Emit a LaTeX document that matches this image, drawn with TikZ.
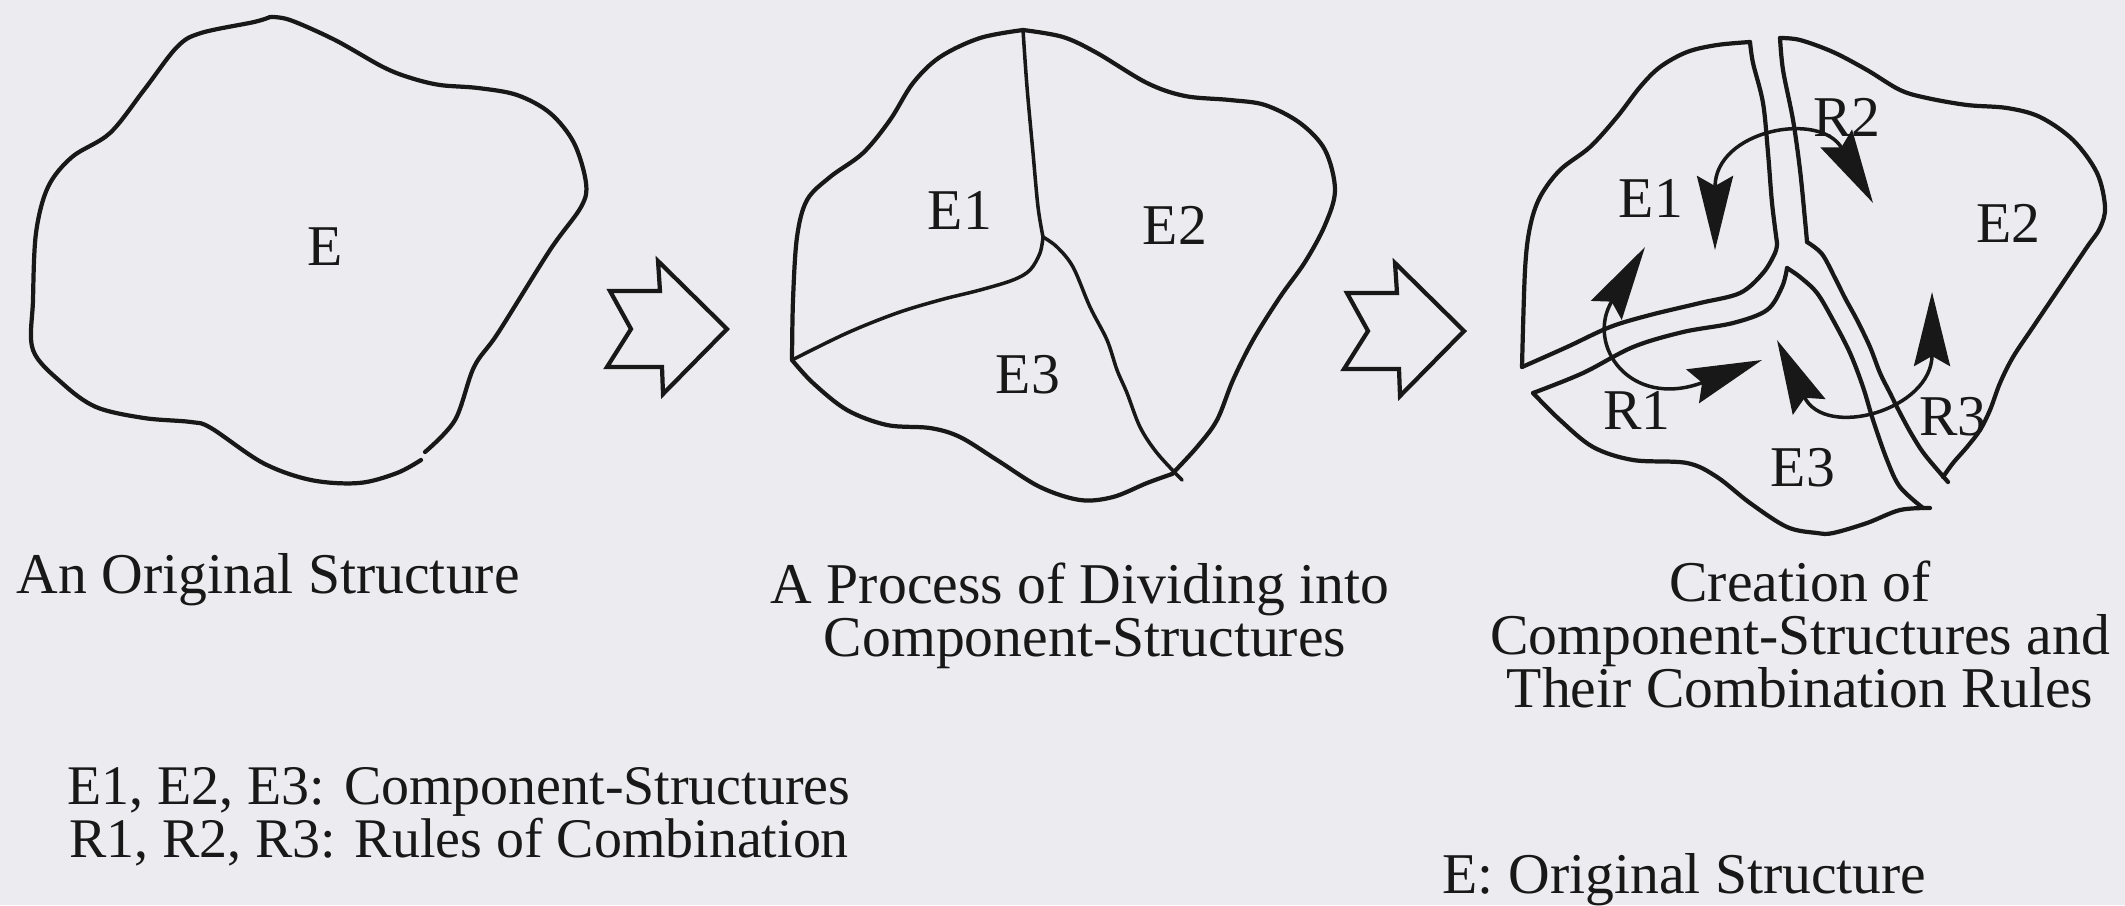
\documentclass[tikz,border=0pt]{standalone}
\usepackage{fontspec}
\setmainfont{Liberation Serif}
\usetikzlibrary{arrows.meta}
\definecolor{bgc}{RGB}{236,236,240}
\definecolor{ink}{RGB}{24,24,24}
\begin{document}
\begin{tikzpicture}[x=0.01cm, y=-0.01cm,
  outline/.style={draw=ink, line width=1.2pt, line join=round, line cap=round},
  inner/.style={draw=ink, line width=1pt, line join=round, line cap=round},
  lbl/.style={font=\fontsize{16.4pt}{14pt}\selectfont, text=ink, inner sep=0pt},
  capline/.style={lbl},
  leg/.style={font=\fontsize{15.9pt}{14pt}\selectfont, text=ink, inner sep=0pt},
  rulearrow/.style={draw=ink, line width=1pt,
    {Stealth[length=0.74cm,width=0.36cm,inset=0.1cm]}-{Stealth[length=0.74cm,width=0.36cm,inset=0.1cm]}},
  bigarrow/.style={draw=ink, line width=1.2pt, line join=miter}]
\fill[bgc] (0,0) rectangle (2125,905);
\useasboundingbox (0,0) rectangle (2125,905);

% ---------- Shape 1: original structure ----------
\draw[outline] plot[smooth, tension=0.55] coordinates {(270,17) (254,22) (201,33) (177,47) (144,90) (110,133) (72,157) (48,187) (36,233) (33,300) (33,350) (62,383) (96,407) (144,418) (191,422) (211,428) (263,463) (311,480) (359,483) (397,473) (421,460)};
\draw[outline] plot[smooth, tension=0.55] coordinates {(425,452) (455,420) (474,367) (498,333) (550,250) (581,207) (586,183) (574,143) (550,113) (517,95) (478,88) (440,85) (411,78) (383,67) (335,40) (290,20) (270,17)};
\node[lbl] (E) at (325,247) {E};

% ---------- big arrows ----------
\begin{scope}[shift={(0,14)}]
\draw[bigarrow] (610,277) -- (660,277) -- (658,247) -- (727,315) -- (663,380) -- (662,353) -- (607,353) -- (631,315) -- cycle;
\end{scope}
\begin{scope}[shift={(737,16)}]
\draw[bigarrow] (610,277) -- (660,277) -- (658,247) -- (727,315) -- (663,380) -- (662,353) -- (607,353) -- (631,315) -- cycle;
\end{scope}

% ---------- Shape 2: dividing ----------
\draw[outline] plot[smooth, tension=0.55] coordinates {(1023,30) (980,38) (940,57) (913,83) (890,120) (863,153) (830,177) (807,200) (797,237) (793,300) (792,360)};
\draw[outline] plot[smooth, tension=0.55] coordinates {(792,360) (813,383) (847,410) (887,425) (930,428) (960,437) (997,460) (1040,487) (1080,500) (1113,497) (1147,483) (1172,474)};
\draw[outline] plot[smooth, tension=0.55] coordinates {(1172,474) (1197,447) (1217,420) (1233,380) (1253,340) (1280,297) (1305,262) (1325,225) (1335,190) (1325,150) (1300,123) (1265,105) (1230,100) (1185,96) (1147,83) (1097,53) (1063,37) (1023,30)};
\draw[inner] plot[smooth, tension=0.55] coordinates {(1023,30) (1027,87) (1033,153) (1038,207) (1043,237)};
\draw[inner] plot[smooth, tension=0.55] coordinates {(1043,237) (1040,253) (1030,270) (1013,280) (980,290) (940,300) (897,313) (847,333) (792,360)};
\draw[inner] plot[smooth, tension=0.55] coordinates {(1043,237) (1057,247) (1073,267) (1090,307) (1107,340) (1117,370) (1127,393) (1140,427) (1157,453) (1182,480)};
\node[lbl] (E1b) at (960,210) {E1};
\node[lbl] (E2b) at (1175,225) {E2};
\node[lbl] (E3b) at (1028,375) {E3};

% ---------- Shape 3: component structures and rules ----------
% E1 region
\draw[outline] plot[smooth, tension=0.55] coordinates {(1750,42) (1717,45) (1687,52) (1660,67) (1640,87) (1617,117) (1590,147) (1560,170) (1540,197) (1530,227) (1525,270) (1522,367)};
\draw[outline] plot[smooth, tension=0.55] coordinates {(1522,367) (1567,347) (1610,327) (1650,315) (1700,303) (1740,293) (1763,273) (1775,253) (1777,243)};
\draw[outline] plot[smooth, tension=0.55] coordinates {(1777,243) (1772,203) (1768,153) (1763,103) (1753,63) (1750,42)};
% E2 region
\draw[outline] plot[smooth, tension=0.55] coordinates {(1780,38) (1800,40) (1833,52) (1867,70) (1900,90) (1927,98) (1967,105) (2007,108) (2040,117) (2073,140) (2097,173) (2105,207) (2100,228) (2087,247) (2060,287) (2033,327) (2013,357) (2000,383) (1990,410) (1980,430) (1967,447) (1953,463) (1943,477)};
\draw[outline] plot[smooth, tension=0.55] coordinates {(1780,38) (1783,70) (1793,120) (1800,170) (1805,220) (1807,242)};
\draw[outline] plot[smooth, tension=0.55] coordinates {(1807,242) (1822,254) (1835,278) (1845,298) (1857,320) (1870,347) (1880,373) (1890,393) (1900,413) (1912,435) (1925,455) (1948,482)};
% E3 region
\draw[outline] plot[smooth, tension=0.55] coordinates {(1787,268) (1782,287) (1767,310) (1733,323) (1683,332) (1633,347) (1583,373) (1533,393)};
\draw[outline] plot[smooth, tension=0.55] coordinates {(1533,393) (1560,420) (1593,447) (1633,460) (1687,463) (1717,477) (1750,503) (1787,527) (1817,533) (1833,533) (1867,523) (1900,510) (1930,508)};
\draw[outline] plot[smooth, tension=0.55] coordinates {(1923,508) (1900,487) (1887,460) (1873,420) (1863,387) (1850,353) (1833,320) (1817,293) (1800,277) (1787,268)};

% rules of combination
\coordinate (r2a) at (1715,250);
\coordinate (r2b) at (1873,203);
\coordinate (r1a) at (1645,247);
\coordinate (r1b) at (1762,360);
\coordinate (r3a) at (1777,340);
\coordinate (r3b) at (1932,292);
\draw[rulearrow] (r2a) .. controls (1715,130) and (1820,110) .. (r2b);
\draw[rulearrow] (r1a) .. controls (1585,345) and (1630,410) .. (r1b);
\draw[rulearrow] (r3a) .. controls (1825,440) and (1932,410) .. (r3b);

\node[lbl] (E1c) at (1651,198) {E1};
\node[lbl] (E2c) at (2008,223) {E2};
\node[lbl] (E3c) at (1803,468) {E3};
\node[lbl] (R1) at (1637,410) {R1};
\node[lbl] (R2) at (1847,117) {R2};
\node[lbl] (R3) at (1953,417) {R3};

% ---------- captions ----------
\node[capline, anchor=base west] (cap1) at (16,593) {An Original Structure};
\node[capline, anchor=base] (cap2a) at (1080,603) {A Process of Dividing into};
\node[capline, anchor=base] (cap2b) at (1085,656) {Component-Structures};
\node[capline, anchor=base] (cap3a) at (1800,601) {Creation of};
\node[capline, anchor=base] (cap3b) at (1800,654) {Component-Structures and};
\node[capline, anchor=base] (cap3c) at (1800,707) {Their Combination Rules};
\node[leg, anchor=base] (leg1) at (459,804) {E1, E2, E3: Component-Structures};
\node[leg, anchor=base] (leg2) at (459,857) {R1, R2, R3: Rules of Combination};
\node[capline, anchor=base west] (leg3) at (1442,893) {E: Original Structure};
\end{tikzpicture}
\end{document}
